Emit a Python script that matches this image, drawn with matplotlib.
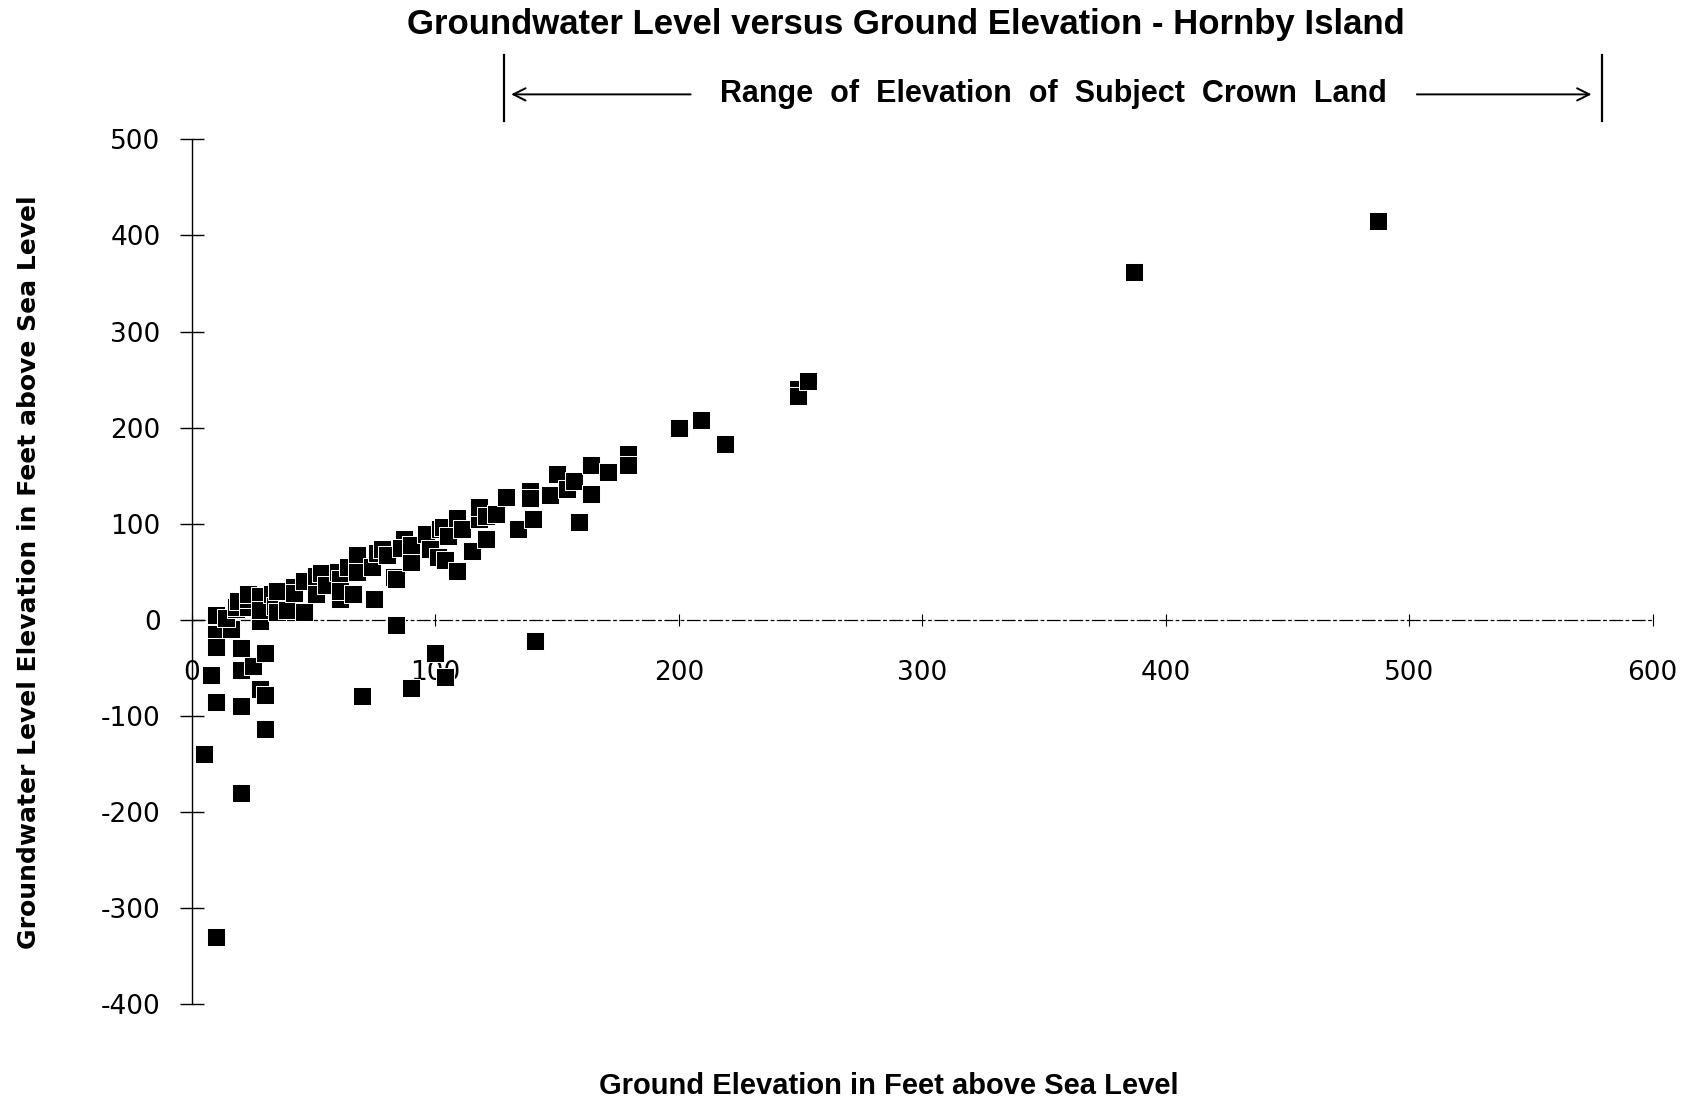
import matplotlib
matplotlib.use("Agg")
import matplotlib.pyplot as plt
import matplotlib.transforms as mtransforms

# ---- data ----
ground_elev = [5, 8, 10, 10, 10, 10, 10, 16, 20, 20, 20, 20, 25, 28, 30, 30, 30,
               70, 90, 100, 104, 84, 141,
               10, 14, 18, 18, 19, 23, 23, 23, 28, 28, 28, 33, 34, 35, 35, 39, 42, 42,
               46, 46, 51, 51, 53, 55, 60, 61, 61, 61, 64, 66, 68, 68, 74, 75, 76, 78,
               80, 83, 84, 87, 86, 90, 90, 96, 98, 101, 102, 103, 104, 105, 109, 109,
               111, 115, 118, 118, 121, 121, 125, 129, 134, 139, 139, 140, 139, 147,
               150, 154, 157, 159, 164, 164, 171, 179, 179, 200, 209, 219, 249, 249,
               253, 387, 487]
gw_level = [-140, -57, -330, -85, -28, -10, 4, -9, -29, -52, -90, -180, -48, -72, -35, -78, -114,
            -79, -71, -35, -59, -5, -22,
            5.5, 2, 11, 13, 20, 13, 22, 27, 25, -1, 10, 27, 14, 8, 30, 10, 34, 28,
            8, 40, 46, 27, 49, 36, 50, 22, 42, 30, 55, 27, 67, 50, 55, 22, 70, 74,
            68, 45, 42, 84, 75, 60, 78, 89, 74, 65, 95, 97, 62, 87, 51, 106,
            95, 72, 105, 117, 84, 108, 110, 128, 95, 131, 134, 105, 127, 130,
            152, 136, 145, 102, 131, 161, 154, 173, 161, 200, 208, 183, 240, 233,
            249, 362, 415]

x_ticks = [0, 100, 200, 300, 400, 500, 600]
y_ticks = [-400, -300, -200, -100, 0, 100, 200, 300, 400, 500]
crown_range = [128, 579]

title = "Groundwater Level versus Ground Elevation - Hornby Island"
xlabel = "Ground Elevation in Feet above Sea Level"
ylabel = "Groundwater Level Elevation in Feet above Sea Level"
range_text = "Range  of  Elevation  of  Subject  Crown  Land"

plt.rcParams['font.family'] = ['Liberation Sans', 'DejaVu Sans']

fig = plt.figure(figsize=(16.83, 11.06), dpi=100)
ax = fig.add_axes([0.114, 0.092, 0.868, 0.782])

ax.scatter(ground_elev, gw_level, marker='s', s=160, c='black',
           edgecolors='white', linewidths=0.7, zorder=3, clip_on=False)

ax.set_xlim(0, 600)
ax.set_ylim(-400, 500)
ax.spines['top'].set_visible(False)
ax.spines['right'].set_visible(False)
ax.spines['bottom'].set_position(('data', 0))
ax.spines['bottom'].set_linestyle((0, (10, 3, 2, 3)))
ax.spines['bottom'].set_linewidth(0.9)
ax.spines['left'].set_linewidth(1.0)

ax.set_xticks(x_ticks)
ax.set_yticks(y_ticks)
ax.set_xticklabels([str(v) for v in x_ticks])
ax.set_yticklabels([str(v) for v in y_ticks])
ax.tick_params(axis='y', direction='inout', length=17, width=1.0, pad=14,
               labelsize=19)
ax.tick_params(axis='x', direction='inout', length=8, width=0.8, pad=25,
               labelsize=19)
for lab in ax.get_xticklabels() + ax.get_yticklabels():
    lab.set_family(['DejaVu Sans'])

fig.text(0.538, 0.978, title, ha='center', va='center', fontsize=25,
         fontweight='bold')
fig.text(0.528, 0.018, xlabel, ha='center', va='center', fontsize=21,
         fontweight='bold')
fig.text(0.017, 0.483, ylabel, ha='center', va='center', fontsize=18,
         rotation=90, family=['DejaVu Sans'], fontweight='bold')

# crown land range bracket above the plot
trans = mtransforms.blended_transform_factory(ax.transData, ax.transAxes)
for xv in crown_range:
    ax.plot([xv, xv], [1.021, 1.098], transform=trans, color='black',
            lw=1.6, clip_on=False)
ax.annotate('', xy=(crown_range[0] + 2, 1.052), xytext=(206, 1.052),
            xycoords=trans, textcoords=trans,
            arrowprops=dict(arrowstyle='->', lw=1.4, color='black',
                            mutation_scale=22))
ax.annotate('', xy=(crown_range[1] - 3, 1.052), xytext=(502, 1.052),
            xycoords=trans, textcoords=trans,
            arrowprops=dict(arrowstyle='->', lw=1.4, color='black',
                            mutation_scale=22))
ax.text(354, 1.052, range_text, transform=trans, ha='center', va='center',
        fontsize=22, fontweight='bold')

fig.savefig('out.png', dpi=100)
